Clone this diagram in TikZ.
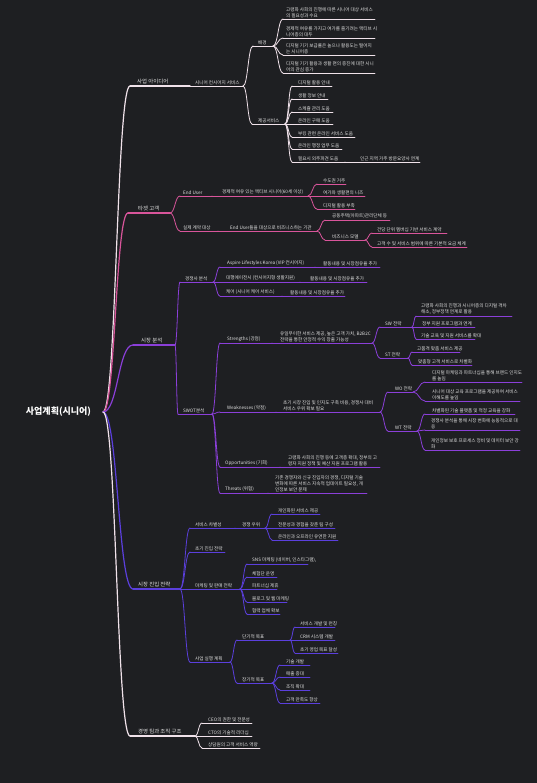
\documentclass[tikz,border=0pt]{standalone}
\usepackage{fontspec}
\setmainfont{Noto Sans CJK KR}
\usetikzlibrary{calc}
\definecolor{bgc}{HTML}{1E1F22}
\definecolor{cA}{HTML}{F0E2EA}
\definecolor{cB}{HTML}{D9559B}
\definecolor{cC}{HTML}{8B3FD9}
\definecolor{cD}{HTML}{5B3FDD}
\definecolor{tx}{HTML}{E2E2E2}
\tikzset{
  lbl/.style={inner sep=0pt, text=tx, font=\fontsize{4.6}{5.6}\selectfont, align=left},
  ul/.style={line width=0.8pt, line cap=round},
  big/.style={line width=1.2pt}
}
\newcommand{\lone}[1]{{\fontsize{5.4}{6.5}\selectfont #1}}
% name, line style, x start, x text, x end, y, text
\newcommand{\mmn}[7]{%
  \coordinate (#1-s) at (#3,#6);
  \coordinate (#1-e) at (#5,#6);
  \node[lbl, anchor=south west] (#1) at (#4,#6-1.4) {#7};
  \draw[ul, #2] (#1-s) -- (#1-e);
}
\newcommand{\mmc}[3]{%
  \draw[ul, #1] let \p1=(#2-e), \p2=(#3-s) in (\p1) .. controls ({0.5*\x1+0.5*\x2},\y1) and ({0.5*\x1+0.5*\x2},\y2) .. (\p2);
}
\begin{document}
\begin{tikzpicture}[x=1pt,y=-1pt]
\fill[bgc] (0,0) rectangle (537,783);
\useasboundingbox (0,0) rectangle (537,783);

% root
\node[inner sep=0pt, text=white, font=\fontsize{9}{11}\selectfont\bfseries] (root) at (58.5,412) {사업계획(시니어)};
\coordinate (root-e) at (103,412);

% ---------- branch 1
\mmn{b1}{cA,big}{130}{137}{190}{86}{\lone{사업 아이디어}}
\mmn{scs}{cA}{190}{195}{243}{86}{시니어 컨시어지 서비스}
\mmn{bgr}{cA}{253}{258}{273}{46}{배경}
\mmn{bk1}{cA}{283}{286}{375}{19}{고령화 사회의 진행에 따른 시니어 대상 서비스\\의 필요성과 수요}
\mmn{bk2}{cA}{283}{286}{375}{38}{경제적 여유를 가지고 여가를 즐기려는 액티브 시\\니어층의 대두}
\mmn{bk3}{cA}{283}{286}{375}{55}{디지털 기기 보급률은 높으나 활용도는 떨어지\\는 시니어층}
\mmn{bk4}{cA}{283}{286}{375}{73}{디지털 기기 활용과 생활 편의 증진에 대한 시니\\어의 관심 증가}
\mmn{svc}{cA}{252}{258}{285}{124}{제공서비스}
\mmn{sv1}{cA}{292}{298}{332}{86}{디지털 활용 안내}
\mmn{sv2}{cA}{292}{298}{328}{99}{생활 정보 안내}
\mmn{sv3}{cA}{292}{298}{333}{112}{스케쥴 관리 도움}
\mmn{sv4}{cA}{292}{298}{333}{124}{온라인 구매 도움}
\mmn{sv5}{cA}{292}{298}{355}{137}{부킹 관련 온라인 서비스 도움}
\mmn{sv6}{cA}{292}{298}{342}{149}{온라인 행정 업무 도움}
\mmn{sv7}{cA}{292}{298}{345}{162}{필요시 외주파견 도움}
\mmn{sv7a}{cA}{345}{360}{420}{162}{인근 지역 거주 방문요양사 연계}

% ---------- branch 2
\mmn{b2}{cB,big}{128}{138}{170}{213}{\lone{타겟 고객}}
\mmn{eu}{cB}{180}{183}{212}{196}{End User}
\mmn{eu1}{cB}{212}{222}{308}{196}{경제적 여유 있는 액티브 시니어(60세 이상)}
\mmn{eu1a}{cB}{317}{323}{346}{184}{수도권 거주}
\mmn{eu1b}{cB}{317}{323}{365}{196}{여가와 생활편의 니즈}
\mmn{eu1c}{cB}{317}{323}{355}{209}{디지털 활용 부족}
\mmn{ct}{cB}{180}{183}{218}{231}{실제 계약 대상}
\mmn{ct1}{cB}{218}{230}{317}{231}{End User들을 대상으로 비즈니스하는 기관}
\mmn{ct1a}{cB}{325}{332}{390}{220}{공동주택(아파트)관리단체 등}
\mmn{ct1b}{cB}{325}{332}{365}{240}{비즈니스 모델}
\mmn{bm1}{cB}{372}{377}{447}{233}{건당 단위 멤버십 기반 서비스 계약}
\mmn{bm2}{cB}{372}{377}{467}{247}{고객 수 및 서비스 범위에 따른 기본적 요금 체계}

% ---------- branch 3
\mmn{b3}{cC,big}{133}{141}{175}{345}{\lone{시장 분석}}
\mmn{cmp}{cC}{180}{185}{213}{282}{경쟁사 분석}
\mmn{cmp1}{cC}{220}{227}{315}{267}{Aspire Lifestyles Korea (VIP 컨시어지)}
\mmn{cmp1a}{cC}{315}{323}{380}{267}{활동내용 및 시장점유율 추가}
\mmn{cmp2}{cC}{220}{226}{300}{282}{대행에이전시 (컨시어지형 생활지원)}
\mmn{cmp2a}{cC}{300}{310}{367}{282}{활동내용 및 시장점유율 추가}
\mmn{cmp3}{cC}{220}{226}{282}{296}{케어 (시니어 케어 서비스)}
\mmn{cmp3a}{cC}{282}{290}{345}{296}{활동내용 및 시장점유율 추가}
\mmn{swot}{cC}{178}{183}{212}{414}{SWOT분석}
\mmn{st}{cC}{220}{227}{272}{343}{Strengths (강점)}
\mmn{std}{cC}{272}{280}{372}{343}{유일무이한 서비스 제공, 높은 고객 가치, B2B2C\\전략을 통한 안정적 수익 창출 가능성}
\mmn{sw}{cC}{380}{385}{412}{327}{SW 전략}
\mmn{sw1}{cC}{416}{421}{512}{316}{고령화 사회의 진행과 시니어층의 디지털 격차\\해소, 정부정책 연계로 활용}
\mmn{sw2}{cC}{416}{422}{475}{327}{정부 지원 프로그램과 연계}
\mmn{sw3}{cC}{416}{421}{475}{339}{기술 교육 및 지원 서비스를 확대}
\mmn{sto}{cC}{380}{385}{408}{358}{ST 전략}
\mmn{st1}{cC}{412}{417}{460}{352}{고품격 맞춤 서비스 제공}
\mmn{st2}{cC}{412}{418}{472}{365}{맞춤형 고객 서비스로 차별화}
\mmn{wk}{cC}{220}{227}{276}{412}{Weaknesses (약점)}
\mmn{wkd}{cC}{276}{283}{380}{412}{초기 시장 진입 및 인지도 구축 비용, 경쟁사 대비\\서비스 우위 확보 필요}
\mmn{wo}{cC}{388}{395}{413}{392}{WO 전략}
\mmn{wo1}{cC}{425}{432}{522}{382}{디지털 마케팅과 파트너십을 통해 브랜드 인지도\\를 높임}
\mmn{wo2}{cC}{425}{432}{520}{401}{시니어 대상 교육 프로그램을 제공하여 서비스\\이해도를 높임}
\mmn{wt}{cC}{388}{395}{417}{431}{WT 전략}
\mmn{wt1}{cC}{425}{432}{515}{414}{차별화된 기술 플랫폼 및 적정 교육을 강화}
\mmn{wt2}{cC}{425}{431}{520}{430}{경쟁사 분석을 통해 시장 변화에 능동적으로 대\\응}
\mmn{wt3}{cC}{425}{431}{520}{450}{개인정보 보호 프로세스 정비 및 데이터 보안 강\\화}
\mmn{op}{cC}{220}{225}{280}{467}{Opportunities (기회)}
\mmn{opd}{cC}{280}{288}{380}{467}{고령화 사회의 진행 등에 고객층 확대, 정부의 고\\령자 지원 정책 및 예산 지원 프로그램 활용}
\mmn{th}{cC}{220}{225}{268}{493}{Threats (위협)}
\mmn{thd}{cC}{268}{275}{367}{493}{기존 경쟁자와 신규 진입자의 경쟁, 디지털 기술\\변화에 따른 서비스 지속적 업데이트 필요성, 개\\인정보 보안 문제}

% ---------- branch 4
\mmn{b4}{cD,big}{133}{138}{180}{589}{\lone{시장 진입 전략}}
\mmn{df}{cD}{190}{195}{235}{528}{서비스 차별성}
\mmn{dfa}{cD}{235}{242}{265}{528}{경쟁 우위}
\mmn{df1}{cD}{272}{278}{320}{514}{개인화된 서비스 제공}
\mmn{df2}{cD}{272}{278}{335}{528}{전문성과 경험을 갖춘 팀 구성}
\mmn{df3}{cD}{272}{278}{338}{540}{온라인과 오프라인 유연한 지원}
\mmn{ent}{cD}{190}{195}{225}{552}{초기 진입 전략}
\mmn{mk}{cD}{190}{195}{240}{589}{마케팅 및 판매 전략}
\mmn{mk1}{cD}{247}{252}{308}{564}{SNS 마케팅 (네이버, 인스타그램),}
\mmn{mk2}{cD}{247}{252}{277}{577}{체험단 운영}
\mmn{mk3}{cD}{247}{252}{277}{589}{파트너십 제휴}
\mmn{mk4}{cD}{247}{252}{287}{602}{블로그 및 웹 마케팅}
\mmn{mk5}{cD}{247}{252}{280}{614}{협력 업체 확보}
\mmn{ex}{cD}{190}{195}{230}{662}{사업 실행 계획}
\mmn{sh}{cD}{237}{242}{290}{640}{단기적 목표}
\mmn{sh1}{cD}{295}{300}{335}{627}{서비스 개발 및 런칭}
\mmn{sh2}{cD}{295}{300}{335}{640}{CRM 시스템 개발}
\mmn{sh3}{cD}{295}{300}{338}{653}{초기 영업 목표 달성}
\mmn{lg}{cD}{237}{242}{272}{683}{장기적 목표}
\mmn{lg1}{cD}{280}{286}{310}{665}{기술 개발}
\mmn{lg2}{cD}{280}{286}{310}{677}{매출 증대}
\mmn{lg3}{cD}{280}{286}{310}{690}{조직 확대}
\mmn{lg4}{cD}{280}{286}{320}{703}{고객 만족도 향상}

% ---------- branch 5
\mmn{b5}{cA,big}{130}{138}{195}{736}{\lone{경영 팀과 조직 구조}}
\mmn{m1}{cA}{202}{208}{252}{723}{CEO의 권한 및 전문성}
\mmn{m2}{cA}{202}{208}{252}{736}{CTO의 기술적 리더십}
\mmn{m3}{cA}{202}{208}{260}{748}{상담원의 고객 서비스 역량}

% ---------- connectors
\mmc{cA,big}{root}{b1}
\mmc{cB,big}{root}{b2}
\mmc{cC,big}{root}{b3}
\mmc{cD,big}{root}{b4}
\mmc{cA,big}{root}{b5}

\mmc{cA}{b1}{scs}
\mmc{cA}{scs}{bgr}
\mmc{cA}{scs}{svc}
\foreach \c in {bk1,bk2,bk3,bk4} {\mmc{cA}{bgr}{\c}}
\foreach \c in {sv1,sv2,sv3,sv4,sv5,sv6,sv7} {\mmc{cA}{svc}{\c}}
\mmc{cA}{sv7}{sv7a}

\mmc{cB}{b2}{eu}
\mmc{cB}{b2}{ct}
\mmc{cB}{eu}{eu1}
\foreach \c in {eu1a,eu1b,eu1c} {\mmc{cB}{eu1}{\c}}
\mmc{cB}{ct}{ct1}
\mmc{cB}{ct1}{ct1a}
\mmc{cB}{ct1}{ct1b}
\mmc{cB}{ct1b}{bm1}
\mmc{cB}{ct1b}{bm2}

\mmc{cC}{b3}{cmp}
\mmc{cC}{b3}{swot}
\foreach \c in {cmp1,cmp2,cmp3} {\mmc{cC}{cmp}{\c}}
\mmc{cC}{cmp1}{cmp1a}
\mmc{cC}{cmp2}{cmp2a}
\mmc{cC}{cmp3}{cmp3a}
\foreach \c in {st,wk,op,th} {\mmc{cC}{swot}{\c}}
\mmc{cC}{st}{std}
\mmc{cC}{std}{sw}
\mmc{cC}{std}{sto}
\foreach \c in {sw1,sw2,sw3} {\mmc{cC}{sw}{\c}}
\foreach \c in {st1,st2} {\mmc{cC}{sto}{\c}}
\mmc{cC}{wk}{wkd}
\mmc{cC}{wkd}{wo}
\mmc{cC}{wkd}{wt}
\foreach \c in {wo1,wo2} {\mmc{cC}{wo}{\c}}
\foreach \c in {wt1,wt2,wt3} {\mmc{cC}{wt}{\c}}
\mmc{cC}{op}{opd}
\mmc{cC}{th}{thd}

\foreach \c in {df,ent,mk,ex} {\mmc{cD}{b4}{\c}}
\mmc{cD}{df}{dfa}
\foreach \c in {df1,df2,df3} {\mmc{cD}{dfa}{\c}}
\foreach \c in {mk1,mk2,mk3,mk4,mk5} {\mmc{cD}{mk}{\c}}
\mmc{cD}{ex}{sh}
\mmc{cD}{ex}{lg}
\foreach \c in {sh1,sh2,sh3} {\mmc{cD}{sh}{\c}}
\foreach \c in {lg1,lg2,lg3,lg4} {\mmc{cD}{lg}{\c}}

\foreach \c in {m1,m2,m3} {\mmc{cA}{b5}{\c}}
\end{tikzpicture}
\end{document}
